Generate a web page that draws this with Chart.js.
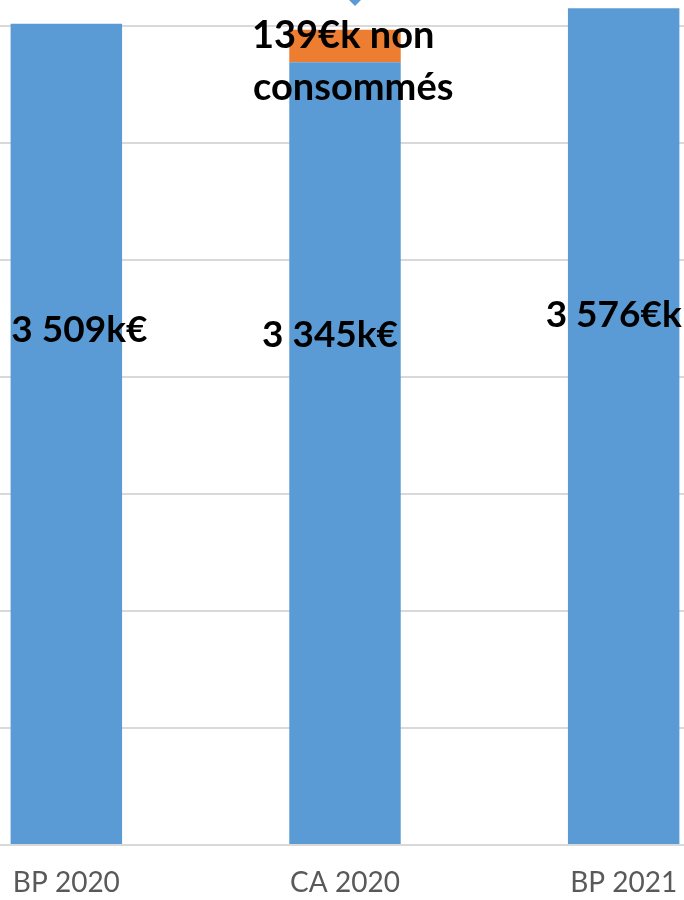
<!DOCTYPE html>
<html>
<head>
<meta charset="utf-8">
<script src="https://cdn.jsdelivr.net/npm/chart.js@4"></script>
<style>
  html, body { margin: 0; padding: 0; background: #fff; overflow: hidden; width: 684px; height: 900px; }
  #wrap { position: absolute; left: -73px; top: 0; width: 836px; height: 900px; }
</style>
</head>
<body>
<div id="wrap"><canvas id="c" width="836" height="900"></canvas></div>
<script>
// Budget comparison (k€)
const categories = ['BP 2020', 'CA 2020', 'BP 2021'];
const realise = [3509, 3345, 3576];
const nonConsomme = [null, 139, null];
const unitSuffix = ['k€', 'k€', '€k'];
const gridValues = [0, 500, 1000, 1500, 2000, 2500, 3000, 3500];
const axisMax = 3611;

const BLUE = '#5b9bd5';
const ORANGE = '#ed7d31';

function fmt(v) {
  return String(v).replace(/\B(?=(\d{3})+(?!\d))/g, ' ');
}

// Hand-placed label offsets relative to each bar's top
const labelOffsets = [
  { dx: 13, dy: 306 },
  { dx: -15, dy: 273 },
  { dx: -10, dy: 307 }
];

const labelPlugin = {
  id: 'barLabels',
  afterDatasetsDraw(chart) {
    const ctx = chart.ctx;
    ctx.save();
    ctx.font = 'bold 37px Lato';
    ctx.fillStyle = '#000';
    ctx.textAlign = 'center';
    ctx.textBaseline = 'middle';
    const blue = chart.getDatasetMeta(0).data;
    blue.forEach((el, i) => {
      const o = labelOffsets[i];
      ctx.fillText(fmt(realise[i]) + unitSuffix[i], el.x + o.dx, el.y + o.dy);
    });
    // callout for the unspent part
    const orange = chart.getDatasetMeta(1).data;
    orange.forEach((el, i) => {
      if (nonConsomme[i] == null) return;
      const tipX = el.x + 10, tipY = 6;
      ctx.beginPath();
      ctx.moveTo(tipX - 7, -1);
      ctx.lineTo(tipX + 7, -1);
      ctx.lineTo(tipX, tipY);
      ctx.closePath();
      ctx.fillStyle = BLUE;
      ctx.fill();
      ctx.fillStyle = '#000';
      ctx.font = 'bold 38px Lato';
      ctx.textAlign = 'left';
      ctx.textBaseline = 'alphabetic';
      ctx.fillText(nonConsomme[i] + '€k non', el.x - 93, el.y + 18);
      ctx.fillText('consommés', el.x - 92, el.y + 70);
    });
    ctx.restore();
  }
};

new Chart(document.getElementById('c'), {
  type: 'bar',
  data: {
    labels: categories,
    datasets: [
      { label: 'Réalisé', data: realise, backgroundColor: BLUE, borderWidth: 0 },
      { label: 'Non consommé', data: nonConsomme, backgroundColor: ORANGE, borderWidth: 0 }
    ]
  },
  options: {
    responsive: false,
    animation: false,
    devicePixelRatio: 1,
    layout: { padding: 0 },
    plugins: { legend: { display: false }, tooltip: { enabled: false } },
    datasets: { bar: { categoryPercentage: 1, barPercentage: 0.4 } },
    scales: {
      x: {
        stacked: true,
        afterFit(scale) { scale.height = 55; },
        grid: { display: false, drawTicks: false },
        border: { display: false },
        ticks: { color: '#595959', font: { family: 'Lato', size: 28 }, padding: 21, maxRotation: 0 }
      },
      y: {
        stacked: true,
        min: 0,
        max: axisMax,
        afterBuildTicks(scale) {
          scale.ticks = gridValues.map(v => ({ value: v }));
        },
        afterFit(scale) { scale.width = 0; },
        ticks: { display: false },
        grid: { color: '#d9d9d9', lineWidth: 2, drawTicks: false },
        border: { display: false }
      }
    }
  },
  plugins: [labelPlugin]
});
</script>
</body>
</html>
